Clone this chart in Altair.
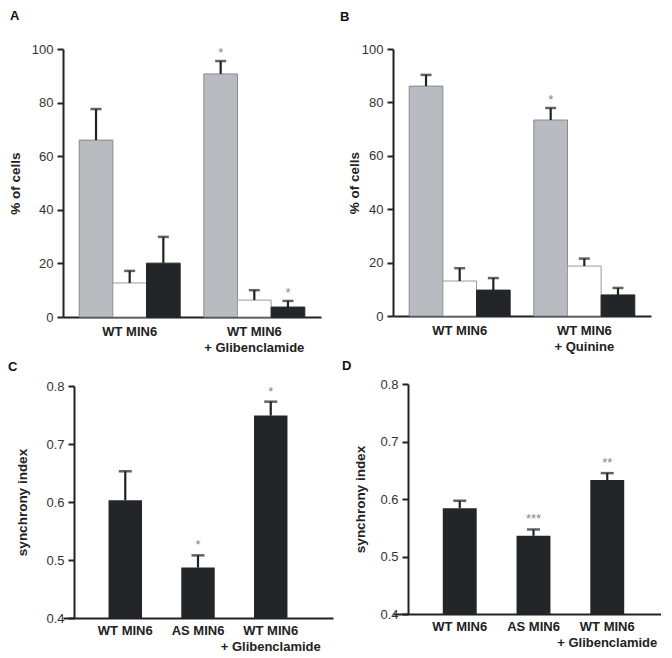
import altair as alt
import pandas as pd

# ---- data ----
series = ["type 1", "type 2", "type 3"]

groups_a = ["WT MIN6", "WT MIN6|+ Glibenclamide"]
values_a = [66.0, 12.7, 20.1, 90.7, 6.3, 3.7]
errors_a = [11.6, 4.5, 9.8, 4.8, 3.7, 2.3]
sig_a = ["", "", "", "*", "", "*"]

groups_b = ["WT MIN6", "WT MIN6|+ Quinine"]
values_b = [86.1, 13.1, 9.7, 73.4, 18.7, 7.9]
errors_b = [4.2, 4.8, 4.5, 4.5, 2.8, 2.6]
sig_b = ["", "", "", "*", "", ""]

cats_cd = ["WT MIN6", "AS MIN6", "WT MIN6|+ Glibenclamide"]
values_c = [0.603, 0.487, 0.749]
errors_c = [0.050, 0.021, 0.024]
sig_c = ["", "*", "*"]

values_d = [0.584, 0.536, 0.633]
errors_d = [0.013, 0.011, 0.012]
sig_d = ["", "***", "**"]

pct_ticks = [0, 20, 40, 60, 80, 100]
si_ticks = [0.4, 0.5, 0.6, 0.7, 0.8]

FONT = "Liberation Sans"
INK = "#222222"
bar_fill = ["#b8bbc0", "#ffffff", "#232628"]
bar_stroke = ["#86898d", "#9a9a9a", "#232628"]


def y_axis(title, values, fmt, title_pad, offset=0):
    return alt.Axis(
        values=values, format=fmt, grid=False, title=title, offset=offset,
        domainColor=INK, domainWidth=2, tickColor=INK, tickWidth=2, tickSize=6,
        labelFont=FONT, labelFontSize=13, labelColor="#333333", labelPadding=4,
        titleFont=FONT, titleFontSize=13.5, titleFontWeight="bold", titleColor=INK,
        titlePadding=title_pad,
    )


def x_axis(pad):
    return alt.Axis(
        title=None, ticks=False, labelAngle=0, domainColor=INK, domainWidth=2,
        labelFont=FONT, labelFontSize=13, labelFontWeight="bold", labelColor=INK,
        labelExpr="split(datum.label, '|')", labelPadding=pad, labelLineHeight=16.5,
        labelBaseline="top",
    )


def letter_layer(name, lx, ly):
    return alt.Chart(pd.DataFrame({"letter": [name]})).mark_text(
        align="left", baseline="top", font=FONT, fontSize=13, fontWeight="bold",
        color="#111111").encode(text="letter:N", x=alt.value(lx), y=alt.value(ly))


def grouped_panel(groups, values, errors, sig, ytitle, tpad, w, h, name, lx, ly):
    rows = []
    k = 0
    for g in groups:
        for s in series:
            rows.append({"group": g, "series": s, "value": values[k],
                         "top": values[k] + errors[k], "sig": sig[k]})
            k += 1
    df = pd.DataFrame(rows)
    x = alt.X("group:N", sort=groups,
              scale=alt.Scale(paddingInner=0.19, paddingOuter=0.13), axis=x_axis(8))
    xo = alt.XOffset("series:N", sort=series,
                     scale=alt.Scale(paddingInner=0, paddingOuter=0))
    ysc = alt.Scale(domain=[0, 100], nice=False)
    base = alt.Chart(df)
    bars = base.mark_bar(strokeWidth=1).encode(
        x=x, xOffset=xo,
        y=alt.Y("value:Q", scale=ysc, axis=y_axis(ytitle, pct_ticks, "d", tpad)),
        fill=alt.Fill("series:N", scale=alt.Scale(domain=series, range=bar_fill), legend=None),
        stroke=alt.Stroke("series:N", scale=alt.Scale(domain=series, range=bar_stroke), legend=None),
    )
    rule = base.mark_rule(strokeWidth=2.2, color=INK).encode(
        x=x, xOffset=xo, y="value:Q", y2="top:Q")
    cap = base.mark_tick(thickness=2.5, size=11, color=INK).encode(
        x=x, xOffset=xo, y="top:Q")
    star = base.mark_text(baseline="alphabetic", dy=-4, fontSize=13, font=FONT,
                          color="#888888").encode(x=x, xOffset=xo, y="top:Q", text="sig:N")
    return alt.layer(bars, rule, cap, star, letter_layer(name, lx, ly)).properties(
        width=w, height=h)


def simple_panel(values, errors, sig, tpad, yoff, w, h, name, lx, ly, pin, pout, align):
    df = pd.DataFrame({"cat": cats_cd, "value": values,
                       "top": [v + e for v, e in zip(values, errors)], "sig": sig})
    x = alt.X("cat:N", sort=cats_cd,
              scale=alt.Scale(paddingInner=pin, paddingOuter=pout, align=align),
              axis=x_axis(6))
    ysc = alt.Scale(domain=[0.4, 0.8], nice=False, zero=False)
    base = alt.Chart(df)
    bars = base.mark_bar(color="#232628").encode(
        x=x, y=alt.Y("value:Q", scale=ysc,
                     axis=y_axis("synchrony index", si_ticks, ".1f", tpad, yoff)),
        y2=alt.datum(0.4))
    rule = base.mark_rule(strokeWidth=2.2, color=INK).encode(x=x, y="value:Q", y2="top:Q")
    cap = base.mark_tick(thickness=2.5, size=13, color=INK).encode(x=x, y="top:Q")
    star = base.mark_text(baseline="alphabetic", dy=-6, fontSize=13, font=FONT,
                          color="#888888").encode(x=x, y="top:Q", text="sig:N")
    return alt.layer(bars, rule, cap, star, letter_layer(name, lx, ly)).properties(
        width=w, height=h)


pA = grouped_panel(groups_a, values_a, errors_a, sig_a, "% of cells", 9, 258, 268, "A", -53, -39)
pB = grouped_panel(groups_b, values_b, errors_b, sig_b, "% of cells", 0, 258, 267, "B", -53, -38)
pC = simple_panel(values_c, errors_c, sig_c, 16, -11, 270, 232, "C", -55, -25, 0.54, 0.626, 0.5)
pD = simple_panel(values_d, errors_d, sig_d, 12, -15, 268, 230, "D", -51, -24, 0.54, 0.587, 0.575)

left = alt.concat(pA, pC, columns=1, spacing=6)
right = alt.concat(pB, pD, columns=1, spacing=6)

chart = alt.hconcat(left, right, spacing=7).properties(
    padding={"top": 2, "left": 0, "right": 0, "bottom": 0}
).configure_view(stroke=None)

chart.save("out.html", embed_options={"renderer": "svg", "actions": False})
